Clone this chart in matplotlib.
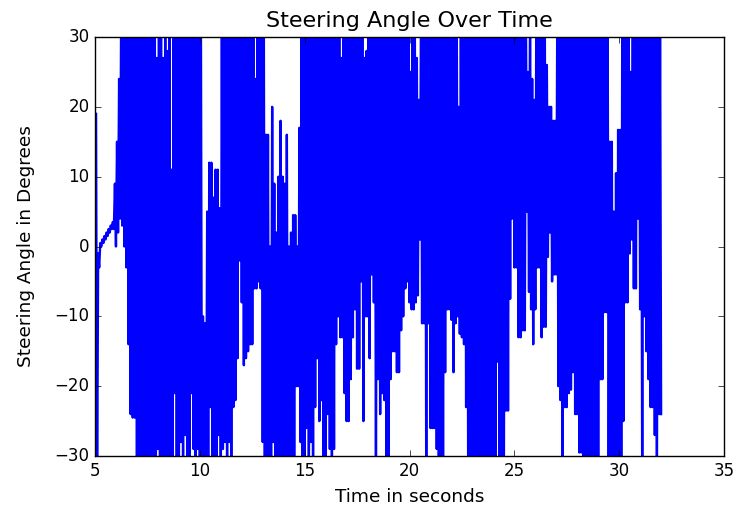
import numpy as np
import matplotlib
matplotlib.use("Agg")
import matplotlib.pyplot as plt

plt.style.use("classic")

# Sampling grid of the recording (seconds)
t_start = 5.05
dt = 0.1

# Upper swing of the steering angle in each 0.1 s window (degrees)
upper = [
    19, -1, 0.5, 1, 1.5, 2, 2.5, 3, 3.5, 9,            # 5.x
    15, 24, 35, 35, 35, 35, 35, 35, 35, 35,            # 6.x
    35, 35, 35, 35, 35, 35, 35, 35, 35, 27,            # 7.x
    35, 35, 27, 35, 28, 35, 11, 35, 35, 35,            # 8.x
    35, 35, 35, 35, 35, 35, 35, 35, 35, 35,            # 9.x
    35, -10, -11, 5, 12, 12, 7, 11, 11, 5.5,           # 10.x
    35, 35, 35, 35, 35, 35, 35, 35, 35, 35,            # 11.x
    35, 35, 35, 35, 35, 35, 24, 35, 35, 35,            # 12.x
    35, 16, 16, 0, 20, 9, 2, 10, 18, 10,               # 13.x
    9, 16, 0, 2, 4.5, 4.5, 0, 17, 35, 35,              # 14.x
    35, 35, 35, 35, 35, 35, 35, 35, 35, 35,            # 15.x
    35, 35, 35, 35, 35, 35, 35, 27, 35, 35,            # 16.x
    35, 35, 35, 35, 35, 35, 35, 35, 27, 28,            # 17.x
    35, 35, 35, 35, 35, 35, 35, 35, 35, 35,            # 18.x
    35, 35, 35, 35, 35, 35, 35, 35, 35, 35,            # 19.x
    25, 35, 35, 27, 21, 35, 35, 35, 35, 35,            # 20.x
    35, 35, 35, 35, 35, 35, 35, 35, 35, 35,            # 21.x
    35, 35, 35, 20, 35, 35, 35, 35, 35, 35,            # 22.x
    35, 35, 35, 35, 35, 35, 35, 35, 35, 35,            # 23.x
    35, 35, 35, 35, 35, 35, 35, 35, 35, 35,            # 24.x
    35, 35, 35, 35, 35, 35, 25, 35, 24, 21,            # 25.x
    35, 35, 35, 35, 35, 26, 20, 20, 18, 18,            # 26.x
    35, 35, 35, 35, 35, 35, 35, 35, 35, 35,            # 27.x
    35, 35, 35, 35, 35, 35, 35, 35, 35, 35,            # 28.x
    35, 35, 35, 35, 35, 15, 15, 5, 10.5, 16.7,         # 29.x
    16.7, 35, 35, 35, 35, 25, 35, 35, 35, 35,          # 30.x
    35, 35, 35, 35, 35, 35, 35, 35, 35, 35,            # 31.x
]

# Lower swing of the steering angle in each 0.1 s window (degrees)
lower = [
    -35, -3, 0, 0.5, 1, 1.5, 2, 2.5, 2.5, 0,                   # 5.x
    2, 4, 3, 0, -3, -14, -24, -24.5, -24.5, -35,               # 6.x
    -35, -35, -35, -35, -35, -35, -35, -35, -35, -29,          # 7.x
    -35, -35, -35, -35, -35, -35, -35, -21, -35, -35,          # 8.x
    -28, -35, -27, -35, -35, -21, -29, -35, -29, -35,          # 9.x
    -35, -35, -35, -35, -23, -35, -35, -35, -27, -35,          # 10.x
    -29, -28, -35, -28, -35, -23, -22, -16, -2, -8,            # 11.x
    -17, -16, -15, -14, -14, -6, -6, -5, -6, -28,              # 12.x
    -35, -35, -35, -35, -28, -35, -35, -35, -35, -35,          # 13.x
    -35, -35, -35, -35, -35, -20, -20, -28, -35, -35,          # 14.x
    -26, -35, -28, -30, -23, -16, -25, -22, -35, -35,          # 15.x
    -24, -29, -35, -29, -14, -10, -13, -13, -21, -25,          # 16.x
    -25, -19, -13, -9, -17.5, -17.5, -5, -25, -10, -10,        # 17.x
    -16, -4, -8, -35, -19, -24, -21, -22, -35, -35,            # 18.x
    -19, -15, -15, -18, -18, -12, -10, -6, -5, -8,             # 19.x
    -9, -9, -8, -7, 1, -11, -11, -35, -11, -26,                # 20.x
    -26, -26, -29, -35, -35, -35, -18, -9, -9, -10.5,          # 21.x
    -18, -11, -10, -12.5, -13, -14, -23, -35, -35, -35,        # 22.x
    -35, -35, -35, -35, -35, -35, -35, -35, -35, -35,          # 23.x
    -35, -16.5, -35, -35, -35, -23.5, -23.5, -7.5, 4, -3,      # 24.x
    -3, -13, -13, -12, -12, 5, -6.5, -9, -14, -9,              # 25.x
    -3, -3, -13, -11.5, -11.5, -1.5, 2, -5, -4, -4,            # 26.x
    -20, -22, -30, -23, -23, -21, -20.5, -18, -24, -24,        # 27.x
    -29.5, -29.5, -30, -35, -35, -35, -35, -35, -35, -35,      # 28.x
    -19, -19, -9.4, -9.4, -35, -35, -35, -35, -35, -35,        # 29.x
    -35, -25, -8, -8, -1, 1, -6, -6, 4, -9,                    # 30.x
    -35, -10, -15, -19, -23, -23, -27, -35, -24, -24,          # 31.x
]

x_ticks = [5, 10, 15, 20, 25, 30, 35]
y_ticks = [-30, -20, -10, 0, 10, 20, 30]

# Build the oscillating trace: each window swings from its upper to its lower value
n = len(upper)
t = t_start + dt * np.arange(n)
time = np.empty(2 * n)
angle = np.empty(2 * n)
time[0::2] = t
time[1::2] = t + dt / 2
angle[0::2] = upper
angle[1::2] = lower

fig = plt.figure(figsize=(7.49, 5.12), dpi=100, facecolor="white")
ax = fig.add_axes([95 / 749, 1 - 456 / 512, (724 - 95) / 749, (456 - 37) / 512])
ax.plot(time, angle, color="b", linewidth=1.7, solid_joinstyle="round")
ax.set_xlim(5, 35)
ax.set_ylim(-30, 30)
ax.set_xticks(x_ticks)
ax.set_yticks(y_ticks)
ax.set_title("Steering Angle Over Time", fontsize=16, pad=7)
ax.set_xlabel("Time in seconds", fontsize=13.3, labelpad=6)
ax.set_ylabel("Steering Angle in Degrees", fontsize=13.3, labelpad=14)
ax.tick_params(labelsize=12)

fig.savefig("out.png", dpi=100, facecolor="white")
